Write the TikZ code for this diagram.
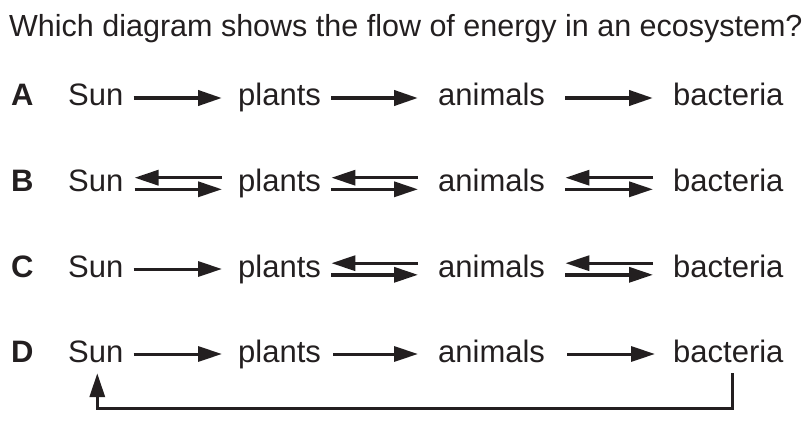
\documentclass[tikz,border=0pt]{standalone}
\usepackage{fontspec}
\setmainfont{Liberation Sans}
\usetikzlibrary{arrows.meta,positioning}
\definecolor{ink}{RGB}{35,31,32}
\newcommand{\wordfont}{\fontsize{31}{37}\selectfont}
\newcommand{\askfont}{\fontsize{30.5}{37}\selectfont}
\tikzset{
  word/.style={text=ink, font=\wordfont, inner sep=0pt, anchor=base west,
              text height=16pt, text depth=0pt},
  tag/.style={word, font=\wordfont\bfseries},
  flow/.style={-{Triangle[length=24pt,width=15pt]}, ink, line width=4pt},
  thinflow/.style={flow, line width=3pt},
  dualflow/.style={flow, line width=3.4pt},
  loopback/.style={flow, line width=3.4pt},
}
\begin{document}
\begin{tikzpicture}[x=1pt, y=-1pt]
        \useasboundingbox (0,0) rectangle (809,428);
        \node[word, font=\askfont] (question) at (9,37) {Which diagram shows the flow of energy in an ecosystem?};
        % ===================== row A =====================
        \node[tag]  (tagA)      at (11,106)  {A};
        \node[word] (sunA)      at (68,106)  {Sun};
        \node[word] (plantsA)   at (238,106) {plants};
        \node[word] (animalsA)  at (438,106) {animals};
        \node[word] (bacteriaA) at (673,106) {bacteria};
        \draw[flow] ([xshift=10pt]sunA.east) -- ([xshift=-16pt]plantsA.west);
        \draw[flow] ([xshift=10.3pt]plantsA.east) -- ([xshift=-20pt]animalsA.west);
        \draw[flow] ([xshift=20.2pt]animalsA.east) -- ([xshift=-20pt]bacteriaA.west);
        % ===================== row B =====================
        \node[tag]  (tagB)      at (11,191.5)  {B};
        \node[word] (sunB)      at (68,191.5)  {Sun};
        \node[word] (plantsB)   at (238,191.5) {plants};
        \node[word] (animalsB)  at (438,191.5) {animals};
        \node[word] (bacteriaB) at (673,191.5) {bacteria};
        \draw[dualflow] ([xshift=-16pt,yshift=5.8pt]plantsB.west) -- ([xshift=11pt,yshift=5.8pt]sunB.east);
        \draw[dualflow] ([xshift=11pt,yshift=-5.8pt]sunB.east) -- ([xshift=-16pt,yshift=-5.8pt]plantsB.west);
        \draw[dualflow] ([xshift=-20pt,yshift=5.8pt]animalsB.west) -- ([xshift=10.3pt,yshift=5.8pt]plantsB.east);
        \draw[dualflow] ([xshift=10.3pt,yshift=-5.8pt]plantsB.east) -- ([xshift=-20pt,yshift=-5.8pt]animalsB.west);
        \draw[dualflow] ([xshift=-20pt,yshift=5.8pt]bacteriaB.west) -- ([xshift=20.2pt,yshift=5.8pt]animalsB.east);
        \draw[dualflow] ([xshift=20.2pt,yshift=-5.8pt]animalsB.east) -- ([xshift=-20pt,yshift=-5.8pt]bacteriaB.west);
        % ===================== row C =====================
        \node[tag]  (tagC)      at (11,277)  {C};
        \node[word] (sunC)      at (68,277)  {Sun};
        \node[word] (plantsC)   at (238,277) {plants};
        \node[word] (animalsC)  at (438,277) {animals};
        \node[word] (bacteriaC) at (673,277) {bacteria};
        \draw[thinflow] ([xshift=10pt]sunC.east) -- ([xshift=-16pt]plantsC.west);
        \draw[dualflow] ([xshift=-20pt,yshift=5.8pt]animalsC.west) -- ([xshift=10.3pt,yshift=5.8pt]plantsC.east);
        \draw[dualflow] ([xshift=10.3pt,yshift=-5.8pt]plantsC.east) -- ([xshift=-20pt,yshift=-5.8pt]animalsC.west);
        \draw[dualflow] ([xshift=-20pt,yshift=5.8pt]bacteriaC.west) -- ([xshift=20.2pt,yshift=5.8pt]animalsC.east);
        \draw[dualflow] ([xshift=20.2pt,yshift=-5.8pt]animalsC.east) -- ([xshift=-20pt,yshift=-5.8pt]bacteriaC.west);
        % ===================== row D =====================
        \node[tag]  (tagD)      at (11,362)  {D};
        \node[word] (sunD)      at (68,362)  {Sun};
        \node[word] (plantsD)   at (238,362) {plants};
        \node[word] (animalsD)  at (438,362) {animals};
        \node[word] (bacteriaD) at (673,362) {bacteria};
        \draw[thinflow] ([xshift=10pt]sunD.east) -- ([xshift=-16pt]plantsD.west);
        \draw[thinflow] ([xshift=12.3pt]plantsD.east) -- ([xshift=-20pt]animalsD.west);
        \draw[thinflow] ([xshift=22.2pt]animalsD.east) -- ([xshift=-18pt]bacteriaD.west);
        \draw[loopback, shorten <=11pt, shorten >=11pt]
          ([xshift=4pt]bacteriaD.south) -- ++(0,46) -| ([xshift=1.5pt]sunD.south);
      \end{tikzpicture}
\end{document}
